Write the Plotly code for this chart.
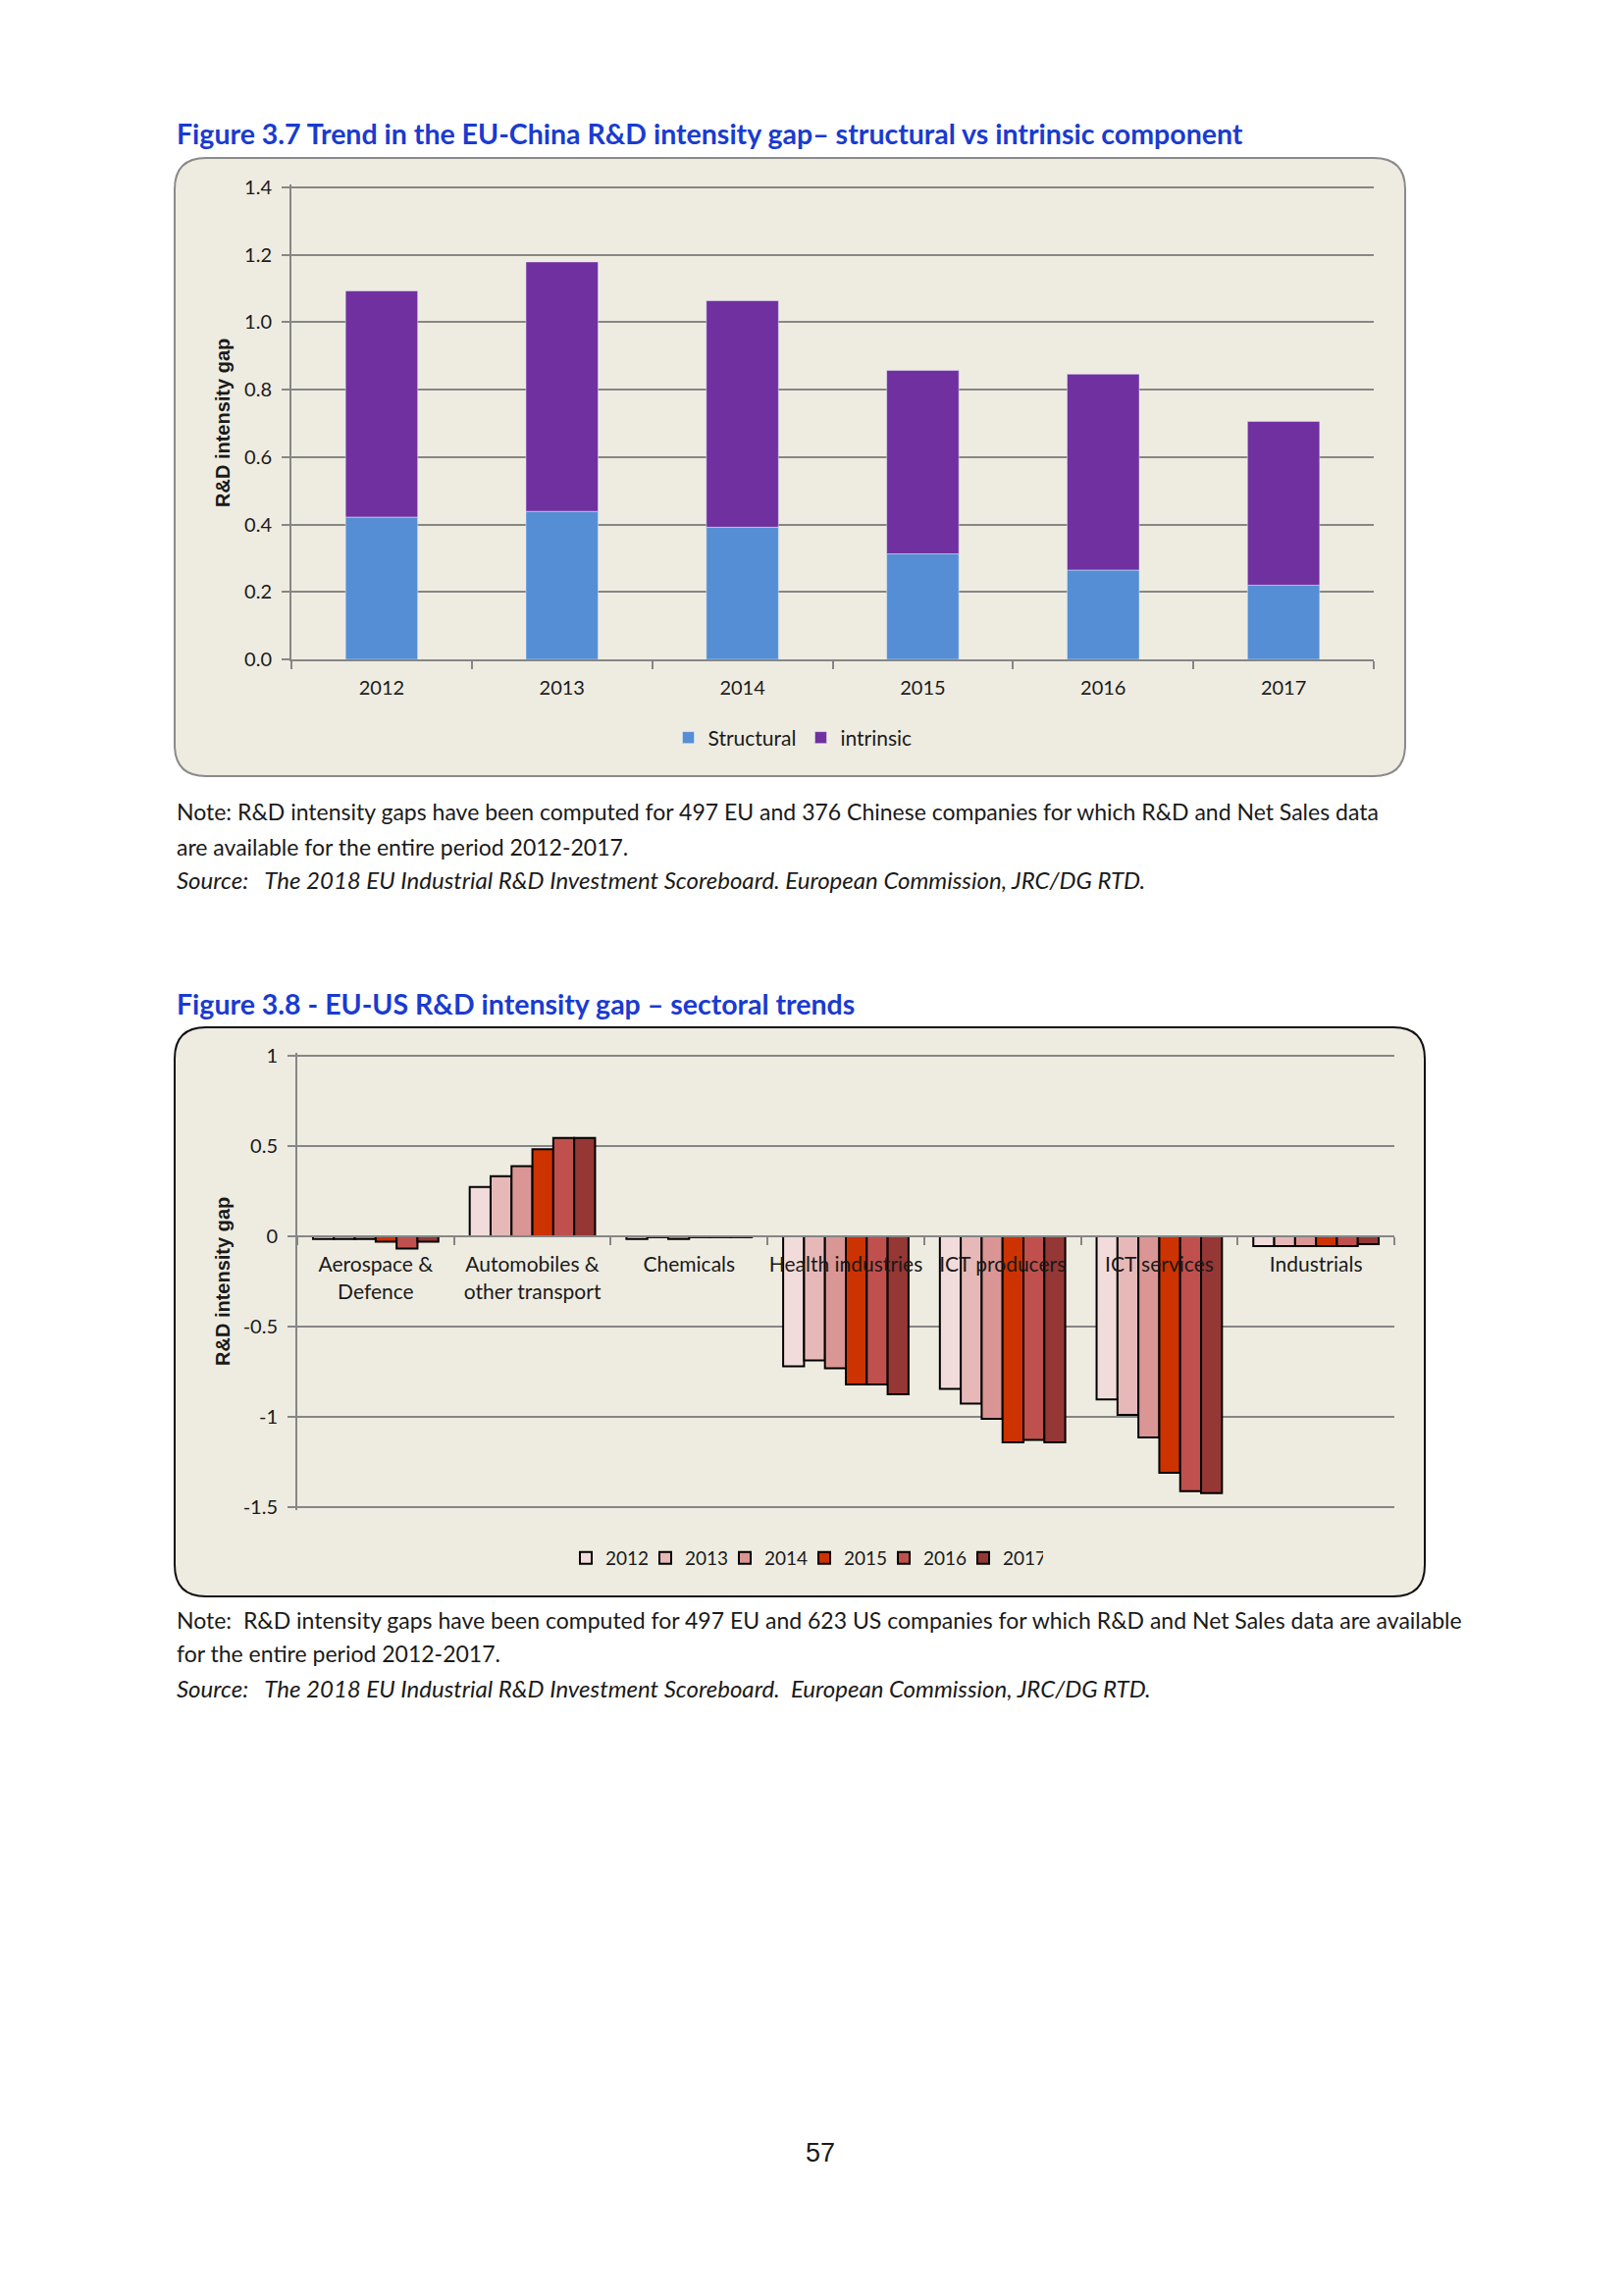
import plotly.graph_objects as go

# Page is 1654x2340; the HTML body adds an 8px margin, so the figure is sized to fit inside it.
PAGE_OFF = 8
W, H = 1654 - PAGE_OFF, 2340 - PAGE_OFF

# ---------------- data: Figure 3.7 ----------------
years = ["2012", "2013", "2014", "2015", "2016", "2017"]
structural = [0.422, 0.439, 0.392, 0.313, 0.265, 0.220]
intrinsic = [0.671, 0.740, 0.672, 0.544, 0.581, 0.486]

# ---------------- data: Figure 3.8 ----------------
sectors = ["Aerospace &<br>Defence", "Automobiles &<br>other transport", "Chemicals",
           "Health industries", "ICT producers", "ICT services", "Industrials"]
gap_2012 = [-0.015, 0.273, -0.015, -0.720, -0.845, -0.903, -0.055]
gap_2013 = [-0.015, 0.333, -0.005, -0.687, -0.926, -0.989, -0.055]
gap_2014 = [-0.015, 0.388, -0.015, -0.731, -1.011, -1.114, -0.055]
gap_2015 = [-0.030, 0.482, -0.005, -0.821, -1.141, -1.310, -0.055]
gap_2016 = [-0.068, 0.545, -0.005, -0.821, -1.128, -1.412, -0.055]
gap_2017 = [-0.030, 0.545, -0.005, -0.875, -1.141, -1.422, -0.044]
gap_series = [gap_2012, gap_2013, gap_2014, gap_2015, gap_2016, gap_2017]
y2_tickvals = [1, 0.5, 0, -0.5, -1, -1.5]
y2_ticktext = ["1", "0.5", "0", "-0.5", "-1", "-1.5"]

# ---------------- styles ----------------
FONT = "Lato, 'Open Sans', sans-serif"
BOLDFONT = "'Liberation Sans', Arial, sans-serif"
BLUE = "#1A3BD0"
GRID = "#868686"
BOX_FILL = "#EEECE1"
TXT = "#1a1a1a"
col_struct = "#558ED5"
col_intr = "#7030A0"
year_colors = ["#F2DCDB", "#E6B9B8", "#D99694", "#CC3300", "#C0504D", "#953735"]


def px(x):
    return (x - PAGE_OFF) / W


def py(y):
    return 1 - (y - PAGE_OFF) / H


fig = go.Figure()

# Figure 3.7 bars (intrinsic on top of structural)
fig.add_trace(go.Bar(x=years, y=structural, name="Structural", marker_color=col_struct,
                     xaxis="x", yaxis="y", offsetgroup="s", width=0.4, legend="legend"))
fig.add_trace(go.Bar(x=years, y=intrinsic, base=structural, name="intrinsic", marker_color=col_intr,
                     xaxis="x", yaxis="y", offsetgroup="s", width=0.4, legend="legend"))

# Figure 3.8 bars
for yr, vals, c in zip(years, gap_series, year_colors):
    fig.add_trace(go.Bar(x=sectors, y=vals, name=yr, marker=dict(color=c, line=dict(color="black", width=2)),
                         xaxis="x2", yaxis="y2", legend="legend2"))

# plot areas (page pixel positions of the nominal axis ranges)
f1 = dict(x0=297, x1=1400, ytop=191, ybot=672, lo=0.0, hi=1.4)
f2 = dict(x0=303, x1=1421, ytop=1076, ybot=1536, lo=-1.5, hi=1.0)
PAD = 3  # px of headroom so end gridlines are kept


def y_setup(f, pad_lo):
    upp = (f["hi"] - f["lo"]) / (f["ybot"] - f["ytop"])  # units per pixel
    lo = f["lo"] - (PAD * upp if pad_lo else 0)
    hi = f["hi"] + PAD * upp
    ytop = f["ytop"] - PAD
    ybot = f["ybot"] + (PAD if pad_lo else 0)
    return [lo, hi], [py(ybot), py(ytop)]


y1_range, f1_dom = y_setup(f1, False)
y2_range, f2_dom = y_setup(f2, True)
zero_pos = f2_dom[0] + (0 - y2_range[0]) / (y2_range[1] - y2_range[0]) * (f2_dom[1] - f2_dom[0])

axis_common = dict(showline=True, linecolor=GRID, linewidth=2, ticks="outside", ticklen=8,
                   tickcolor=GRID, tickwidth=2, automargin=False)

fig.update_layout(
    width=W, height=H, margin=dict(l=0, r=0, t=0, b=0, autoexpand=False),
    paper_bgcolor="white", plot_bgcolor="rgba(0,0,0,0)",
    barmode="group", bargap=0.2, bargroupgap=0,
    showlegend=True,
    xaxis=dict(domain=[px(f1["x0"]), px(f1["x1"])], anchor="y", tickson="boundaries",
               showgrid=False, ticklabelstandoff=10, tickangle=0,
               tickfont=dict(family=FONT, size=20, color=TXT), **axis_common),
    yaxis=dict(domain=f1_dom, anchor="x", range=y1_range, tick0=0, dtick=0.2,
               tickformat=".1f", showgrid=True, gridcolor=GRID, gridwidth=2, zeroline=False,
               ticklabelstandoff=6, tickfont=dict(family=FONT, size=20, color=TXT), **axis_common),
    xaxis2=dict(domain=[px(f2["x0"]), px(f2["x1"])], anchor="free", position=zero_pos,
                tickson="boundaries", showgrid=False, ticklabelstandoff=10, tickangle=0,
                tickfont=dict(family=FONT, size=21, color=TXT), **axis_common),
    yaxis2=dict(domain=f2_dom, anchor="x2", range=y2_range, tickvals=y2_tickvals, ticktext=y2_ticktext,
                showgrid=True, gridcolor=GRID, gridwidth=2, zeroline=False,
                ticklabelstandoff=6, tickfont=dict(family=FONT, size=20, color=TXT), **axis_common),
    legend=dict(orientation="h", x=px(808), y=py(752), xanchor="center", yanchor="middle",
                bgcolor="rgba(0,0,0,0)", font=dict(family=FONT, size=21, color=TXT)),
    legend2=dict(orientation="h", x=px(820), y=py(1588), xanchor="center", yanchor="middle",
                 bgcolor="rgba(0,0,0,0)", entrywidth=36, font=dict(family=FONT, size=19, color=TXT)),
)


def rounded_box(x0, y0, x1, y1, r):
    X0, X1 = px(x0), px(x1)
    Yt, Yb = py(y0), py(y1)
    rx, ry = r / W, r / H
    return (f"M {X0+rx},{Yt} L {X1-rx},{Yt} Q {X1},{Yt} {X1},{Yt-ry} "
            f"L {X1},{Yb+ry} Q {X1},{Yb} {X1-rx},{Yb} "
            f"L {X0+rx},{Yb} Q {X0},{Yb} {X0},{Yb+ry} "
            f"L {X0},{Yt-ry} Q {X0},{Yt} {X0+rx},{Yt} Z")


fig.add_shape(type="path", path=rounded_box(178, 161, 1432, 791, 32), xref="paper", yref="paper",
              fillcolor=BOX_FILL, line=dict(color="#8a8a8a", width=2), layer="below")
fig.add_shape(type="path", path=rounded_box(178, 1047, 1452, 1627, 32), xref="paper", yref="paper",
              fillcolor=BOX_FILL, line=dict(color="#111111", width=2), layer="below")


def text(x, y, s, size=23, family=FONT, color=TXT, xanchor="left", angle=0):
    fig.add_annotation(x=px(x), y=py(y), xref="paper", yref="paper", text=s, showarrow=False,
                       xanchor=xanchor, yanchor="middle", textangle=angle,
                       font=dict(family=family, size=size, color=color))


# titles
text(178, 136, "<b>Figure 3.7 Trend in the EU-China R&D intensity gap– structural vs intrinsic component</b>",
     size=28.5, color=BLUE)
text(178, 1023, "<b>Figure 3.8 - EU-US R&D intensity gap – sectoral trends</b>", size=28.5, color=BLUE)

# y-axis titles
text(227, 431, "<b>R&D intensity gap</b>", size=20, family=BOLDFONT, xanchor="center", angle=-90)
text(227, 1306, "<b>R&D intensity gap</b>", size=20, family=BOLDFONT, xanchor="center", angle=-90)

# notes
text(178, 827, "Note: R&D intensity gaps have been computed for 497 EU and 376 Chinese companies for which R&D and Net Sales data")
text(178, 863, "are available for the entire period 2012-2017.")
text(178, 896, "<i>Source:   The 2018 EU Industrial R&D Investment Scoreboard. European Commission, JRC/DG RTD.</i>", size=24)
text(178, 1651, "Note:  R&D intensity gaps have been computed for 497 EU and 623 US companies for which R&D and Net Sales data are available")
text(178, 1685, "for the entire period 2012-2017.")
text(178, 1720, "<i>Source:   The 2018 EU Industrial R&D Investment Scoreboard.  European Commission, JRC/DG RTD.</i>", size=24)

# page number
text(836, 2194, "57", size=27, family="'Liberation Sans', Arial, sans-serif", xanchor="center")

fig.write_html("out.html")
